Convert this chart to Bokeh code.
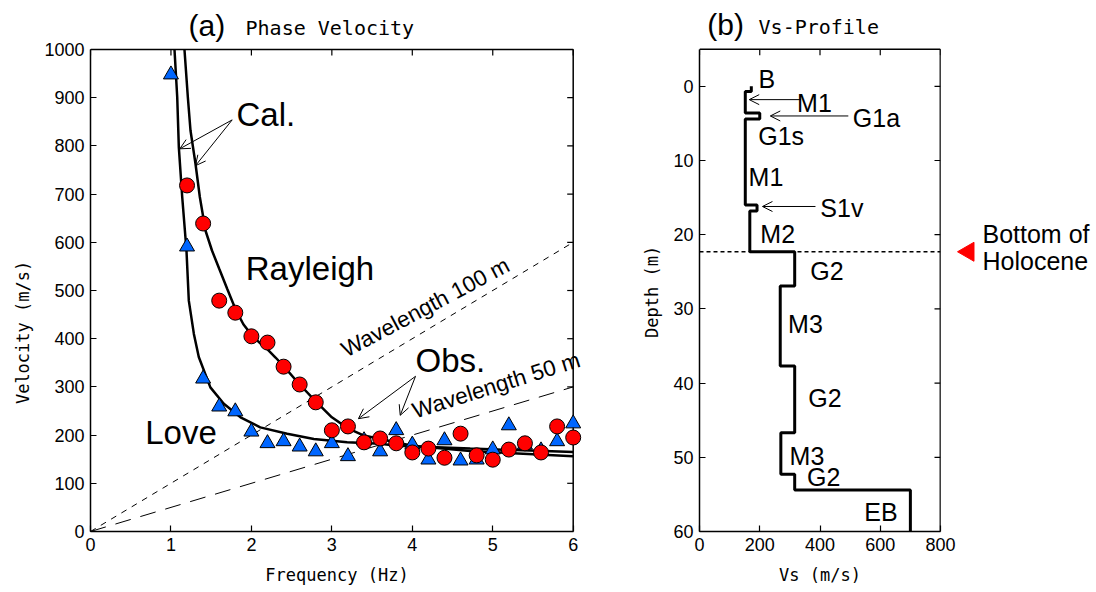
from bokeh.plotting import figure
from bokeh.models import Range1d, Label, Arrow, OpenHead, FixedTicker
from bokeh.layouts import row
from bokeh.embed import file_html
from bokeh.resources import INLINE

# ---------------- data: (a) phase velocity ----------------
love_freq = [1.0, 1.2, 1.4, 1.6, 1.8, 2.0, 2.2, 2.4, 2.6, 2.8, 3.0, 3.2, 3.4,
             3.6, 3.8, 4.0, 4.2, 4.4, 4.6, 4.8, 5.0, 5.2, 5.4, 5.6, 5.8, 6.0]
love_obs = [948, 591, 317, 259, 249, 207, 183, 187, 176, 166, 183, 156, 189,
            166, 210, 180, 149, 189, 147, 149, 170, 220, 180, 168, 187, 224]

rayl_freq = [1.2, 1.4, 1.6, 1.8, 2.0, 2.2, 2.4, 2.6, 2.8, 3.0, 3.2, 3.4,
             3.6, 3.8, 4.0, 4.2, 4.4, 4.6, 4.8, 5.0, 5.2, 5.4, 5.6, 5.8, 6.0]
rayl_obs = [718, 639, 479, 454, 405, 392, 342, 305, 268, 210, 218, 185,
            193, 183, 164, 172, 153, 203, 158, 149, 170, 183, 164, 218, 195]

love_cal_f = [1.044, 1.078, 1.098, 1.14, 1.193, 1.222, 1.285, 1.346, 1.49, 1.657,
              1.865, 2.11, 2.445, 2.776, 3.19, 3.6, 3.81, 4.72, 6.0]
love_cal_v = [1000, 901, 797, 694, 583, 479, 410, 362, 299, 265,
              237, 216, 203, 192, 185, 182, 178, 172, 165]

rayl_cal_f = [1.168, 1.21, 1.243, 1.305, 1.359, 1.43, 1.51, 1.6, 1.7, 1.8, 1.9, 2.0,
              2.1, 2.2, 2.3, 2.4, 2.6, 2.8, 3.0, 3.2, 3.4, 3.6, 4.0, 4.72, 6.0]
rayl_cal_v = [1000, 901, 832, 763, 694, 624, 583, 545, 503, 462, 430, 408,
              392, 378, 361, 343, 305, 270, 237, 214, 199, 192, 178, 167, 156]

wavelengths = [100, 50]          # m
wl_freq = [0, 6]

freq_ticks = [0, 1, 2, 3, 4, 5, 6]
vel_ticks = [0, 100, 200, 300, 400, 500, 600, 700, 800, 900, 1000]

# ---------------- data: (b) Vs profile ----------------
layer_names = ["B", "M1", "G1a", "G1s", "M1", "S1v", "M2", "G2", "M3", "G2", "M3", "G2", "EB"]
layer_top = [0.0, 0.7, 3.6, 4.4, 8.0, 16.0, 16.8, 22.3, 26.9, 37.7, 46.7, 52.3, 54.4]
layer_bot = [0.7, 3.6, 4.4, 8.0, 16.0, 16.8, 22.3, 26.9, 37.7, 46.7, 52.3, 54.4, 60.0]
layer_vs = [172, 152, 200, 152, 152, 191, 167, 316, 268, 316, 270, 316, 700]
holocene_depth = 22.3

vs_ticks = [0, 200, 400, 600, 800]
depth_ticks = [0, 10, 20, 30, 40, 50, 60]
depth_top = -5

TICK_FONT = "Liberation Sans"
MONO_FONT = "DejaVu Sans Mono"
H = 591
BOTTOM = 60


def base_style(p):
    p.xgrid.grid_line_color = None
    p.ygrid.grid_line_color = None
    p.outline_line_color = None


def style(p, xticks, yticks, xbounds, ybounds):
    base_style(p)
    p.below[0].ticker = FixedTicker(ticks=xticks)
    p.left[0].ticker = FixedTicker(ticks=yticks)
    p.below[0].bounds = xbounds
    p.left[0].bounds = ybounds
    for ax in p.below + p.left:
        ax.major_tick_in = 6
        ax.major_tick_out = 0
        ax.minor_tick_line_color = None
        ax.axis_line_width = 1.5
        ax.major_tick_line_width = 1.2
        ax.major_label_text_font = TICK_FONT
        ax.major_label_text_font_size = "18px"
        ax.major_label_text_color = "black"
        ax.major_label_standoff = 6
        ax.axis_label_text_font = MONO_FONT
        ax.axis_label_text_font_size = "17px"
        ax.axis_label_text_font_style = "normal"
        ax.axis_label_text_color = "black"
    p.below[0].axis_label_standoff = 11


def box(p, x0, x1, y0, y1, xticks, yticks):
    # top and right sides of the box with inward ticks
    p.line([x0, x1], [y1, y1], line_color="black", line_width=1.5)
    p.line([x1, x1], [y0, y1], line_color="black", line_width=1.5)
    p.ray(x=xticks, y=y1, length=6, angle=-90, angle_units="deg", length_units="screen",
          line_color="black", line_width=1.2)
    p.ray(x=x1, y=yticks, length=6, angle=180, angle_units="deg", length_units="screen",
          line_color="black", line_width=1.2)


def lab(p, x, y, text, size, font=TICK_FONT, angle=0, align="left"):
    p.add_layout(Label(x=x, y=y, text=text, text_font=font, text_font_size=f"{size}px",
                       text_baseline="middle", text_align=align, angle=angle,
                       angle_units="deg", text_color="black"))


def arrow(p, xs, ys, xe, ye, size=10):
    p.add_layout(Arrow(end=OpenHead(size=size, line_width=1, line_color="black"),
                       x_start=xs, y_start=ys, x_end=xe, y_end=ye,
                       line_width=1, line_color="black"))


def strip(width, y_range, x_end):
    s = figure(width=width, height=H, x_range=Range1d(0, x_end), y_range=y_range,
               output_backend="svg", toolbar_location=None, title=None,
               x_axis_location=None, y_axis_location=None,
               min_border_left=0, min_border_right=0, min_border_top=0, min_border_bottom=BOTTOM)
    base_style(s)
    return s


# ---------------- figure (a) ----------------
# frame: x 90..583 px, y 0..531 px ; box 0..6 Hz / 0..1000 m/s (top at 49 px)
vel_range = Range1d(0, 1101.7)
ya = strip(40, vel_range, 40)
lab(ya, 22, 413, "Velocity (m/s)", 17, font=MONO_FONT, angle=90, align="center")

p1 = figure(width=543, height=H, x_range=Range1d(0, 6.128), y_range=vel_range,
            output_backend="svg", toolbar_location=None, title=None,
            min_border_left=50, min_border_right=0, min_border_top=0, min_border_bottom=BOTTOM)
style(p1, freq_ticks, vel_ticks, (freq_ticks[0], freq_ticks[-1]), (vel_ticks[0], vel_ticks[-1]))
p1.below[0].axis_label = "Frequency (Hz)"
box(p1, freq_ticks[0], freq_ticks[-1], vel_ticks[0], vel_ticks[-1], freq_ticks, vel_ticks)

dashes = ["6 6", "16 10"]
for wl, d in zip(wavelengths, dashes):
    p1.line(wl_freq, [wl * f for f in wl_freq], line_color="black", line_width=1, line_dash=d)

p1.line(love_cal_f, love_cal_v, line_color="black", line_width=2.5)
p1.line(rayl_cal_f, rayl_cal_v, line_color="black", line_width=2.5)

p1.scatter(love_freq, love_obs, marker="triangle", size=15, fill_color="#0066ff",
           line_color="black", line_width=1)
p1.scatter(rayl_freq, rayl_obs, marker="circle", size=15, fill_color="#ff0000",
           line_color="black", line_width=1)

lab(p1, 1.218, 1050, "(a)", 30)
lab(p1, 1.927, 1045, "Phase Velocity", 20, font=MONO_FONT)
lab(p1, 1.815, 865, "Cal.", 33)
lab(p1, 1.93, 545, "Rayleigh", 33)
lab(p1, 0.68, 206, "Love", 33)
lab(p1, 4.04, 355, "Obs.", 33)
lab(p1, 3.139, 374, "Wavelength 100 m", 22.5, angle=28)
lab(p1, 4.01, 249, "Wavelength 50 m", 22.5, angle=17.5)

arrow(p1, 1.761, 854, 1.11, 794)
arrow(p1, 1.761, 854, 1.305, 759)
arrow(p1, 4.04, 322, 3.33, 234)
arrow(p1, 4.04, 322, 3.85, 241)

# ---------------- figure (b) ----------------
# frame: x 699..940 px, y 0..531 px ; box 0..800 m/s / -5..60 m (top at 49 px)
depth_range = Range1d(depth_ticks[-1], -11.56)
yb = strip(81, depth_range, 81)
lab(yb, 68, 27.7, "Depth (m)", 17, font=MONO_FONT, angle=90, align="center")

p2 = figure(width=292, height=H, x_range=Range1d(vs_ticks[0], vs_ticks[-1]), y_range=depth_range,
            output_backend="svg", toolbar_location=None, title=None,
            min_border_left=35, min_border_right=16, min_border_top=0, min_border_bottom=BOTTOM)
style(p2, vs_ticks, depth_ticks, (vs_ticks[0], vs_ticks[-1]), (depth_top, depth_ticks[-1]))
p2.below[0].axis_label = "Vs (m/s)"
box(p2, vs_ticks[0], vs_ticks[-1], depth_ticks[-1], depth_top, vs_ticks, depth_ticks)
p2.line([vs_ticks[-1], vs_ticks[-1]], [depth_ticks[-1], depth_top], line_color="black", line_width=1.5)

prof_x, prof_y = [], []
for t, b, v in zip(layer_top, layer_bot, layer_vs):
    prof_x += [v, v]
    prof_y += [t, b]
p2.line(prof_x, prof_y, line_color="black", line_width=3)

p2.line([vs_ticks[0], vs_ticks[-1]], [holocene_depth, holocene_depth], line_color="black",
        line_width=1.5, line_dash="4 3")

label_pos = [(196, -0.93), (324, 2.22), (509, 4.22), (195, 6.72), (163, 12.22), (401, 16.42),
             (202, 19.92), (368, 24.92), (294, 32.02), (361, 42.02), (299, 49.82), (357, 52.62),
             (547, 57.42)]
for name, (lx, ly) in zip(layer_names, label_pos):
    lab(p2, lx, ly, name, 25)

arrow(p2, 337, 1.8, 165, 1.8)
arrow(p2, 494, 4.0, 235, 4.0)
arrow(p2, 385, 16.2, 209, 16.2)

lab(p2, 25.6, -8.29, "(b)", 30)
lab(p2, 196, -7.95, "Vs-Profile", 20, font=MONO_FONT)

# ---------------- side strip: Holocene marker (x in pixels, y shares depth) ----------------
ps = strip(139, depth_range, 139)
ps.scatter([12], [holocene_depth], marker="triangle", size=19, angle=90, angle_units="deg",
           fill_color="#ff0000", line_color="#ff0000", line_width=1)
lab(ps, 26, 19.85, "Bottom of", 25)
lab(ps, 26, 23.48, "Holocene", 25)

layout = row(ya, p1, yb, p2, ps, spacing=0)
open("out.html", "w").write(file_html(layout, INLINE))
